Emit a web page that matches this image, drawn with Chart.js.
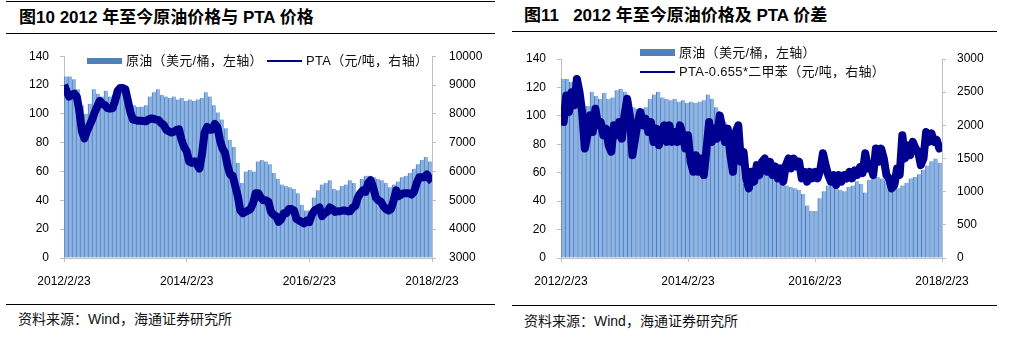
<!DOCTYPE html>
<html>
<head>
<meta charset="utf-8">
<script src="https://cdn.jsdelivr.net/npm/chart.js@4.4.1/dist/chart.umd.min.js"></script>
<style>
  html, body { margin: 0; padding: 0; background: #fff; }
  body { width: 1014px; height: 342px; position: relative; overflow: hidden;
         font-family: "Liberation Sans", Arial, "Noto Sans CJK SC", sans-serif; color: #000; }
  .rule { position: absolute; height: 1px; background: #000; }
  .title { position: absolute; font-size: 17px; font-weight: bold; line-height: 20px; white-space: pre; }
  .src { position: absolute; font-size: 14px; line-height: 16px; white-space: pre; color: #111; }
  .lg { position: absolute; font-size: 13px; line-height: 16px; white-space: pre; color: #111; letter-spacing: 0.3px; }
  .sw-bar { position: absolute; background: #4F81BD; }
  .sw-line { position: absolute; height: 2px; background: #000090; }
  canvas { position: absolute; }
</style>
</head>
<body>
<div class="rule" style="left:6px;top:1px;width:489px;"></div>
<div class="title" style="left:19px;top:8px;">图10 2012 年至今原油价格与 PTA 价格</div>
<div class="rule" style="left:6px;top:33px;width:489px;"></div>

<div class="title" style="left:524px;top:6px;">图11   2012 年至今原油价格及 PTA 价差</div>
<div class="rule" style="left:512px;top:31px;width:485px;"></div>

<canvas id="left" width="500" height="264" style="left:0;top:36px;"></canvas>
<canvas id="right" width="500" height="264" style="left:507px;top:36px;"></canvas>

<div class="sw-bar" style="left:87px;top:58px;width:35px;height:6px;"></div>
<div class="lg" style="left:126px;top:53px;">原油（美元/桶，左轴）</div>
<div class="sw-line" style="left:267px;top:60px;width:35px;"></div>
<div class="lg" style="left:306px;top:53px;">PTA（元/吨，右轴）</div>

<div class="sw-bar" style="left:640px;top:49px;width:35px;height:7px;"></div>
<div class="lg" style="left:679px;top:45px;">原油（美元/桶，左轴）</div>
<div class="sw-line" style="left:640px;top:71px;width:35px;"></div>
<div class="lg" style="left:679px;top:64px;">PTA-0.655*二甲苯（元/吨，右轴）</div>

<div class="rule" style="left:6px;top:304px;width:489px;"></div>
<div class="src" style="left:18px;top:311px;">资料来源：Wind，海通证券研究所</div>
<div class="rule" style="left:512px;top:305px;width:485px;"></div>
<div class="src" style="left:524px;top:313px;">资料来源：Wind，海通证券研究所</div>

<script>
// Crude oil, USD/bbl (bars, roughly every 3-4 weeks from 2012/2/23 to 2018/2/23)
const crudeOil = [
  126,126,124,117,106,100,107,117,114,112,
  116,112,113,118,119,117,110,106,105,105,
  106,112,115,117,113,112,111,112,110,111,
  109,110,109,110,111,115,112,106,101,96,
  90,82,77,66,52,60,61,60,67,68,
  67,65,59,55,51,50,49,48,45,37,
  33,33,42,47,51,52,54,48,47,50,
  51,54,52,46,55,57,57,56,55,54,
  52,49,51,53,56,57,59,62,65,68,
  70,67
];

// PTA price, CNY/t (half-month steps)
const ptaPrice = [
  9000,8800,8600,8650,8700,8600,8100,7400,7150,7400,
  7600,7800,8050,8250,8450,8350,8300,8200,8180,8200,
  8450,8800,8900,8900,8850,8450,8050,7800,7780,7760,
  7760,7750,7740,7800,7840,7830,7800,7780,7680,7620,
  7450,7400,7350,7380,7440,7460,7100,6850,6700,6350,
  6300,6350,6250,6100,6600,7350,7550,7450,7450,7650,
  7550,7100,6800,6650,6200,5900,5850,5500,5150,4650,
  4550,4600,4650,4700,4900,5250,5250,5100,5000,5000,
  4950,4600,4500,4450,4250,4350,4550,4550,4700,4700,
  4650,4350,4300,4250,4200,4300,4250,4500,4650,4700,
  4750,4450,4550,4600,4750,4700,4600,4620,4620,4650,
  4650,4620,4620,4750,4800,5100,5250,5350,5300,5600,
  5700,5450,5100,5000,4950,4800,4700,4650,4700,5000,
  5350,5150,5200,5250,5250,5250,5200,5300,5600,5800,
  5800,5800,5900,5750,5650
];

// PTA - 0.655 * PX spread, CNY/t (half-month steps)
const ptaSpread = [
  2300,2050,2450,2200,2500,2300,2700,2500,2200,1650,
  1850,2150,1900,2250,2000,2050,1850,1950,1700,1600,
  2000,1850,2050,1800,2150,2400,2150,1550,1800,2050,
  2200,2000,2100,1900,2050,1750,1950,1700,1900,2000,
  1750,2000,1750,1900,1750,2000,1850,1650,1850,1450,
  1300,1550,1300,1500,1250,1650,2050,1750,1950,1800,
  2150,1950,1750,1950,1550,1300,1900,2000,1450,1600,
  1200,1050,1300,1150,1400,1250,1450,1500,1300,1450,
  1250,1380,1200,1350,1150,1400,1500,1350,1500,1380,
  1450,1200,1300,1150,1300,1200,1300,1200,1330,1580,
  1400,1250,1150,1250,1100,1250,1150,1250,1200,1300,
  1200,1320,1250,1370,1280,1580,1350,1400,1250,1650,
  1450,1650,1500,1250,1200,1050,1100,1350,1250,1850,
  1500,1700,1550,1750,1650,1600,1400,1500,1900,1750,
  1880,1750,1780,1650,1700
];

const xTickLabels = ['2012/2/23', '2014/2/23', '2016/2/23', '2018/2/23'];
const SPAN = 144;          // x axis length in half-month units
const TICK_EVERY = 48;     // one label every two years

Chart.defaults.font.family = '"Liberation Sans", Arial, sans-serif';
Chart.defaults.font.size = 12;
Chart.defaults.color = '#000';

const AXIS_GREY = '#BFBFBF';
const BAR_FILL = '#8DB4E2';
const BAR_EDGE = '#4A7BBE';
const LINE_NAVY = '#000090';

function toBars(values) {
  const step = SPAN / values.length;
  return values.map((v, j) => ({ x: (j + 0.5) * step, y: v }));
}
function toLine(values) {
  const step = SPAN / (values.length - 1);
  return values.map((v, i) => ({ x: i * step, y: v }));
}

function buildChart(id, o) {
  return new Chart(document.getElementById(id), {
    type: 'bar',
    data: {
      datasets: [
        {
          type: 'line',
          data: toLine(o.lineValues),
          yAxisID: 'y2',
          borderColor: LINE_NAVY,
          borderWidth: o.lineWidth,
          borderJoinStyle: 'round',
          borderCapStyle: 'butt',
          pointRadius: 0,
          tension: 0,
          order: 0
        },
        {
          type: 'bar',
          data: toBars(crudeOil),
          yAxisID: 'y',
          backgroundColor: BAR_FILL,
          borderColor: BAR_EDGE,
          borderWidth: { left: 1, right: 0, top: 0, bottom: 0 },
          borderSkipped: false,
          barPercentage: 1,
          categoryPercentage: 1,
          order: 1
        }
      ]
    },
    options: {
      responsive: false,
      animation: false,
      devicePixelRatio: 1,
      layout: { padding: { top: o.top, left: 0, right: 0, bottom: 0 } },
      plugins: { legend: { display: false }, tooltip: { enabled: false } },
      scales: {
        x: {
          type: 'linear',
          min: 0, max: SPAN,
          offset: false,
          grid: { display: true, offset: false, drawOnChartArea: false, drawTicks: true, tickLength: 4, color: AXIS_GREY },
          border: { display: true, color: AXIS_GREY },
          ticks: {
            stepSize: TICK_EVERY, autoSkip: false, maxRotation: 0, padding: 12,
            callback: v => xTickLabels[Math.round(v / TICK_EVERY)]
          },
          afterFit: s => { s.height = 42; }
        },
        y: {
          position: 'left',
          min: 0, max: 140,
          grid: { display: true, drawOnChartArea: false, tickLength: 4, color: AXIS_GREY },
          border: { display: true, color: AXIS_GREY },
          ticks: { stepSize: 20, padding: 11, callback: v => String(v) },
          afterFit: s => { s.width = o.leftW; }
        },
        y2: {
          position: 'right',
          min: o.rMin, max: o.rMax,
          grid: { display: true, drawOnChartArea: false, tickLength: 4, color: AXIS_GREY },
          border: { display: true, color: AXIS_GREY },
          ticks: { stepSize: o.rStep, padding: o.rPad, callback: v => String(v) },
          afterFit: s => { s.width = o.rightW; }
        }
      }
    }
  });
}

buildChart('left', {
  lineValues: ptaPrice, lineWidth: 8, top: 13,
  leftW: 64, rightW: 68, rMin: 3000, rMax: 10000, rStep: 1000, rPad: 13
});
buildChart('right', {
  lineValues: ptaSpread, lineWidth: 8, top: 23,
  leftW: 54, rightW: 65, rMin: 0, rMax: 3000, rStep: 500, rPad: 11
});
</script>
</body>
</html>
